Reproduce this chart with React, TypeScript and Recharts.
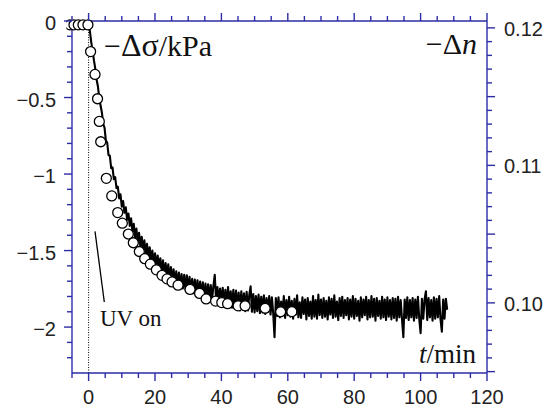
import React from 'react';
import { ComposedChart, Line, XAxis, YAxis, ReferenceLine, Customized } from 'recharts';

const AXIS = '#2c2ca6';
const TICK_FONT = 'Arial, "Liberation Sans", Helvetica, sans-serif';
const SERIF = '"Times New Roman", "Liberation Serif", serif';

// Tick positions / labels
const xTicks = [-5, 0, 5, 10, 15, 20, 25, 30, 35, 40, 45, 50, 55, 60, 65, 70, 75, 80, 85, 90, 95, 100, 105, 110, 115, 120];
const xLabels = [0, 20, 40, 60, 80, 100, 120];
const leftTicks = [-2.2, -2.1, -2.0, -1.9, -1.8, -1.7, -1.6, -1.5, -1.4, -1.3, -1.2, -1.1, -1.0, -0.9, -0.8, -0.7, -0.6, -0.5, -0.4, -0.3, -0.2, -0.1, 0];
const leftLabels = [0, -0.5, -1, -1.5, -2];
const rightTicks = [0.095, 0.096, 0.097, 0.098, 0.099, 0.1, 0.101, 0.102, 0.103, 0.104, 0.105, 0.106, 0.107, 0.108, 0.109, 0.11, 0.111, 0.112, 0.113, 0.114, 0.115, 0.116, 0.117, 0.118, 0.119, 0.12];
const rightLabels = [0.1, 0.11, 0.12];

// -Δσ (kPa), open circles
const sigmaTime = [-5.6, -4.4, -3.1, -1.7, -0.2, 0.6, 1.93, 2.69, 3.23, 3.65, 5.34, 6.97, 8.77, 10.16, 11.97, 13.47, 15.28, 16.91, 18.6, 20.41, 22.12, 23.63, 25.14, 26.95, 30.56, 33.43, 35.39, 38.25, 40.12, 41.87, 45.03, 47.14, 53.17, 57.84, 61.22];
const sigmaValue = [-0.025, -0.025, -0.025, -0.025, -0.025, -0.2, -0.349, -0.508, -0.656, -0.789, -1.028, -1.143, -1.252, -1.321, -1.392, -1.449, -1.506, -1.553, -1.589, -1.626, -1.662, -1.685, -1.705, -1.726, -1.754, -1.78, -1.816, -1.83, -1.84, -1.847, -1.861, -1.861, -1.877, -1.9, -1.899];

// -Δn, noisy trace sampled every 0.4 min from t = 0
const nStep = 0.4;
const nValues = [
  0.12050, 0.11975, 0.11895, 0.11835, 0.11765, 0.11705, 0.11625, 0.11575, 0.11495, 0.11435,
  0.11385, 0.11300, 0.11275, 0.11180, 0.11165, 0.11075, 0.11070, 0.10980, 0.10985, 0.10900,
  0.10915, 0.10835, 0.10845, 0.10760, 0.10790, 0.10700, 0.10740, 0.10655, 0.10695, 0.10605,
  0.10650, 0.10560, 0.10615, 0.10520, 0.10575, 0.10475, 0.10540, 0.10440, 0.10510, 0.10410,
  0.10480, 0.10385, 0.10455, 0.10350, 0.10430, 0.10330, 0.10405, 0.10300, 0.10380, 0.10280,
  0.10360, 0.10260, 0.10345, 0.10245, 0.10325, 0.10225, 0.10310, 0.10200, 0.10290, 0.10185,
  0.10280, 0.10170, 0.10260, 0.10155, 0.10245, 0.10140, 0.10230, 0.10125, 0.10220, 0.10115,
  0.10210, 0.10105, 0.10205, 0.10095, 0.10200, 0.10085, 0.10190, 0.10080, 0.10175, 0.10070,
  0.10170, 0.10060, 0.10165, 0.10055, 0.10155, 0.10045, 0.10150, 0.10040, 0.10140, 0.10035,
  0.10135, 0.10030, 0.10130, 0.10025, 0.10125, 0.10205, 0.10015, 0.10115, 0.10010, 0.10105,
  0.09995, 0.10110, 0.09985, 0.10095, 0.09975, 0.10115, 0.09980, 0.10085, 0.09965, 0.10095,
  0.09960, 0.10090, 0.09955, 0.10075, 0.09945, 0.10085, 0.09950, 0.10070, 0.09940, 0.10080,
  0.09945, 0.10060, 0.10120, 0.09935, 0.10065, 0.09930, 0.10050, 0.09940, 0.10060, 0.09925,
  0.10045, 0.09930, 0.10055, 0.09920, 0.10035, 0.09935, 0.10050, 0.09915, 0.10040, 0.09925,
  0.09750, 0.10035, 0.09905, 0.10040, 0.09895, 0.10010, 0.09920, 0.10050, 0.09890, 0.10020,
  0.09910, 0.10045, 0.09900, 0.10015, 0.09885, 0.10030, 0.09915, 0.10055, 0.09895, 0.10005,
  0.09890, 0.10040, 0.09920, 0.10025, 0.09880, 0.10035, 0.09905, 0.10010, 0.09885, 0.10050,
  0.09900, 0.10020, 0.09885, 0.10060, 0.09910, 0.10025, 0.09890, 0.10035, 0.09900, 0.10015,
  0.09880, 0.10040, 0.09915, 0.10030, 0.09890, 0.10055, 0.09900, 0.10010, 0.09875, 0.10035,
  0.09905, 0.10045, 0.09890, 0.10020, 0.09910, 0.10035, 0.09880, 0.10025, 0.09900, 0.10050,
  0.09885, 0.10030, 0.09905, 0.10015, 0.09870, 0.10040, 0.09895, 0.10025, 0.09910, 0.10045,
  0.09880, 0.10020, 0.09895, 0.10050, 0.09900, 0.10030, 0.09870, 0.10035, 0.09905, 0.10015,
  0.09885, 0.10045, 0.09895, 0.10025, 0.09875, 0.10040, 0.09900, 0.10020, 0.09880, 0.10035,
  0.09890, 0.10030, 0.09870, 0.10045, 0.09895, 0.10020, 0.09880, 0.09750, 0.10025, 0.09890,
  0.10040, 0.09875, 0.10020, 0.09895, 0.10035, 0.09870, 0.10025, 0.09890, 0.10045, 0.09880,
  0.09780, 0.10030, 0.09885, 0.10025, 0.10085, 0.09875, 0.10035, 0.09895, 0.10020, 0.09870,
  0.10040, 0.09885, 0.10030, 0.09895, 0.10050, 0.09880, 0.09790, 0.10025, 0.09885, 0.10030,
  0.09950,
];

const sigmaData = sigmaTime.map((t, i) => ({ t, v: sigmaValue[i] }));
const nData = nValues.map((n, i) => ({ t: Math.round(i * nStep * 10) / 10, n }));

const isIn = (arr: number[], v: number) => arr.some((a) => Math.abs(a - v) < 1e-9);

const BottomTick = (props: any) => {
  const { x, y, payload } = props;
  const v = payload.value;
  const major = isIn(xLabels, v);
  return (
    <g>
      <line x1={x} y1={y} x2={x} y2={y + (major ? 8 : 5)} stroke={AXIS} strokeWidth={1.4} />
      {major && (
        <text x={x} y={y + 31} textAnchor="middle" fontFamily={TICK_FONT} fontSize={20} fill="#222">
          {v}
        </text>
      )}
    </g>
  );
};

const TopTick = (props: any) => {
  const { x, y, payload } = props;
  const major = isIn(xLabels, payload.value);
  return <line x1={x} y1={y} x2={x} y2={y - (major ? 8 : 5)} stroke={AXIS} strokeWidth={1.4} />;
};

const LeftTick = (props: any) => {
  const { x, y, payload } = props;
  const v = payload.value;
  const major = Math.abs(Math.round(v * 10)) % 5 === 0;
  const label = isIn(leftLabels, v);
  const txt = Math.abs(v) < 1e-9 ? '0' : '\u2212' + String(Math.abs(v));
  return (
    <g>
      <line x1={x} y1={y} x2={x - (major ? 8 : 5)} y2={y} stroke={AXIS} strokeWidth={1.4} />
      {label && (
        <text x={x - 16} y={y + 9} textAnchor="end" fontFamily={TICK_FONT} fontSize={20} fill="#222">
          {txt}
        </text>
      )}
    </g>
  );
};

const RightTick = (props: any) => {
  const { x, y, payload } = props;
  const v = payload.value;
  const major = Math.round(v * 1000) % 5 === 0;
  const label = isIn(rightLabels, v);
  return (
    <g>
      <line x1={x} y1={y} x2={x + (major ? 8 : 5)} y2={y} stroke={AXIS} strokeWidth={1.4} />
      {label && (
        <text x={x + 17} y={y + 8} textAnchor="start" fontFamily={TICK_FONT} fontSize={20} fill="#222">
          {v.toFixed(2)}
        </text>
      )}
    </g>
  );
};

const Annotations = () => (
  <g fontFamily={SERIF} fill="#111">
    <text x={104} y={56} fontSize={30}>
      {'\u2212'}
      <tspan fontSize={32}>{'\u0394\u03c3'}</tspan>
      {'/kPa'}
    </text>
    <text x={477} y={54} fontSize={30} textAnchor="end">
      {'\u2212\u0394'}
      <tspan fontStyle="italic">n</tspan>
    </text>
    <text x={476} y={363} fontSize={27} textAnchor="end">
      <tspan fontStyle="italic">t</tspan>/min
    </text>
    <text x={100} y={326} fontSize={23}>UV on</text>
  </g>
);

export default function App() {
  return (
    <div style={{ position: 'absolute', left: 0, top: 0, background: '#fff' }}>
      <ComposedChart width={550} height={409} margin={{ top: 11, right: 13, bottom: 5, left: 12 }}>
        <XAxis
          xAxisId="b"
          dataKey="t"
          type="number"
          orientation="bottom"
          domain={[-5, 120]}
          allowDataOverflow
          ticks={xTicks}
          interval={0}
          height={31}
          tickSize={0}
          tickMargin={0}
          tickLine={false}
          tick={<BottomTick />}
          axisLine={{ stroke: AXIS, strokeWidth: 1.4 }}
        />
        <XAxis
          xAxisId="t"
          dataKey="t"
          type="number"
          orientation="top"
          domain={[-5, 120]}
          allowDataOverflow
          ticks={xTicks}
          interval={0}
          height={10}
          tickSize={0}
          tickMargin={0}
          tickLine={false}
          tick={<TopTick />}
          axisLine={{ stroke: AXIS, strokeWidth: 1.4 }}
        />
        <YAxis
          yAxisId="l"
          type="number"
          orientation="left"
          domain={[-2.3, 0]}
          allowDataOverflow
          ticks={leftTicks}
          interval={0}
          width={60}
          tickSize={0}
          tickMargin={0}
          tickLine={false}
          tick={<LeftTick />}
          axisLine={{ stroke: AXIS, strokeWidth: 1.4 }}
        />
        <YAxis
          yAxisId="r"
          type="number"
          orientation="right"
          domain={[0.0949, 0.1205]}
          allowDataOverflow
          ticks={rightTicks}
          interval={0}
          width={50}
          tickSize={0}
          tickMargin={0}
          tickLine={false}
          tick={<RightTick />}
          axisLine={{ stroke: AXIS, strokeWidth: 1.4 }}
        />
        <ReferenceLine x={0} xAxisId="b" yAxisId="l" stroke="#000" strokeWidth={1} strokeDasharray="1 1.5" />
        <ReferenceLine
          xAxisId="b"
          yAxisId="l"
          segment={[{ x: 1.93, y: -1.375 }, { x: 4.73, y: -1.836 }]}
          stroke="#000"
          strokeWidth={1.3}
        />
        <Line
          data={nData}
          dataKey="n"
          xAxisId="b"
          yAxisId="r"
          type="linear"
          stroke="#000"
          strokeWidth={2.1}
          strokeLinejoin="round"
          dot={false}
          activeDot={false}
          isAnimationActive={false}
        />
        <Line
          data={sigmaData}
          dataKey="v"
          xAxisId="b"
          yAxisId="l"
          type="linear"
          stroke="none"
          dot={{ r: 5, fill: '#fff', stroke: '#000', strokeWidth: 1.3, clipDot: false }}
          activeDot={false}
          isAnimationActive={false}
        />
        <Customized component={Annotations} />
      </ComposedChart>
    </div>
  );
}
